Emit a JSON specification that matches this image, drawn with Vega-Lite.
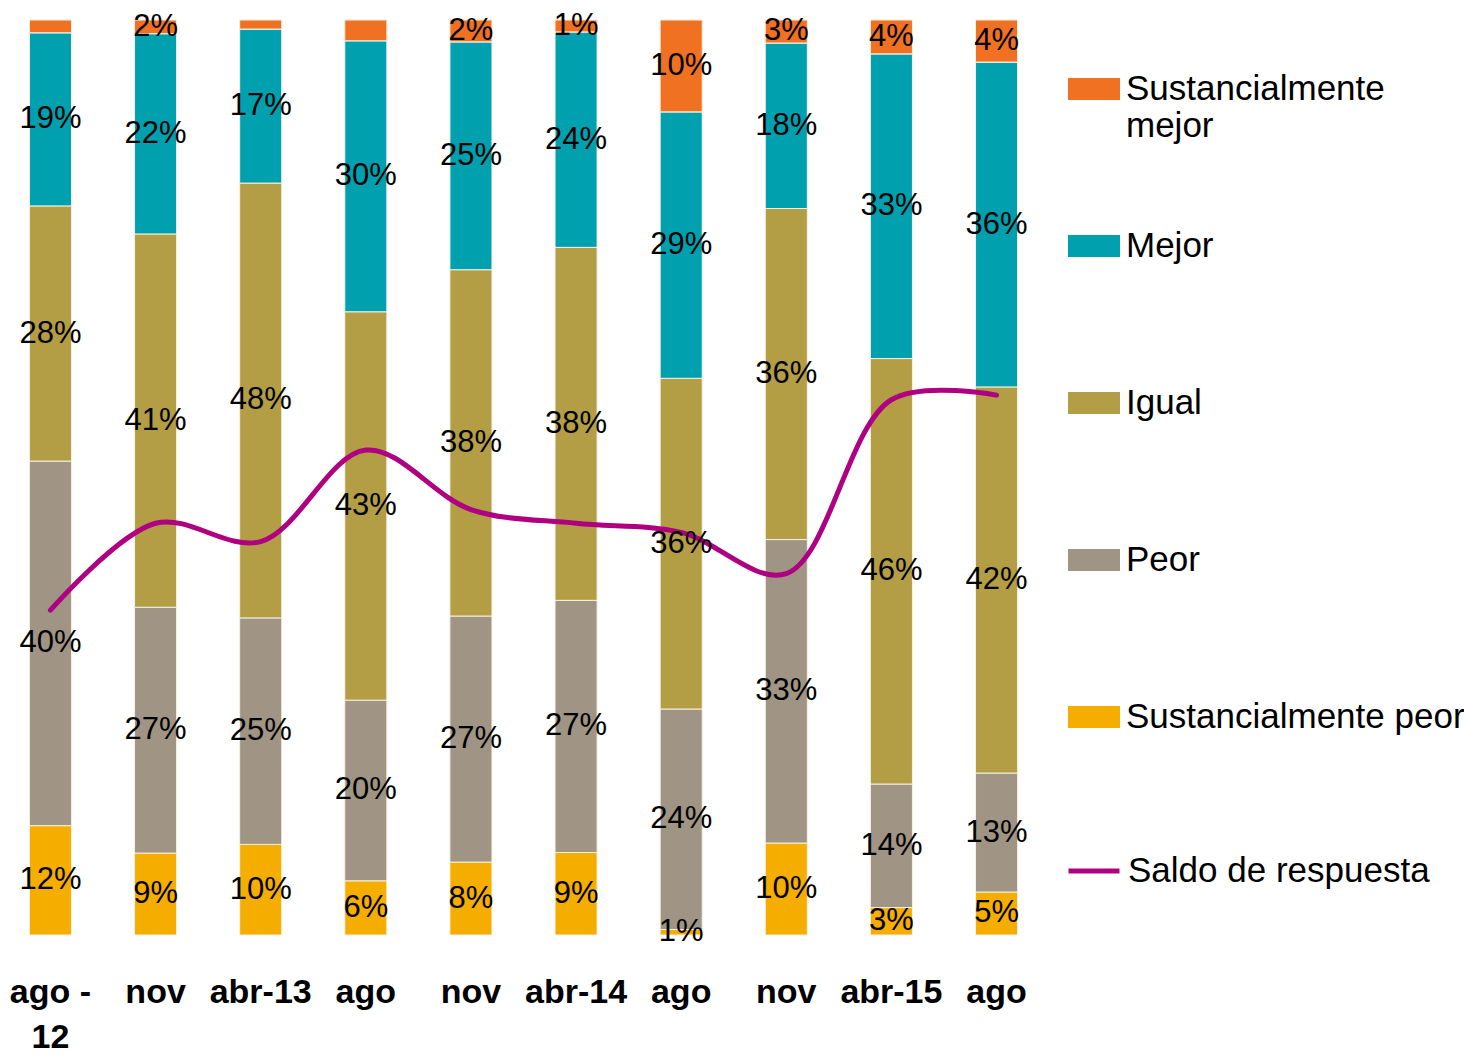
{
  "$schema": "https://vega.github.io/schema/vega-lite/v6.json",
  "width": 1047,
  "height": 915,
  "autosize": "none",
  "padding": {"left": 0, "top": 20, "right": 417, "bottom": 122},
  "config": {"view": {"stroke": null}, "font": "Liberation Sans"},
  "datasets": {
    "barras": [
      {"periodo": "ago-12", "categoria": "Sustancialmente peor", "orden": 1, "valor": 12, "etiqueta": "12%"},
      {"periodo": "ago-12", "categoria": "Peor", "orden": 2, "valor": 40, "etiqueta": "40%"},
      {"periodo": "ago-12", "categoria": "Igual", "orden": 3, "valor": 28, "etiqueta": "28%"},
      {"periodo": "ago-12", "categoria": "Mejor", "orden": 4, "valor": 19, "etiqueta": "19%"},
      {"periodo": "ago-12", "categoria": "Sustancialmente mejor", "orden": 5, "valor": 1.4, "etiqueta": ""},
      {"periodo": "nov-12", "categoria": "Sustancialmente peor", "orden": 1, "valor": 9, "etiqueta": "9%"},
      {"periodo": "nov-12", "categoria": "Peor", "orden": 2, "valor": 27, "etiqueta": "27%"},
      {"periodo": "nov-12", "categoria": "Igual", "orden": 3, "valor": 41, "etiqueta": "41%"},
      {"periodo": "nov-12", "categoria": "Mejor", "orden": 4, "valor": 22, "etiqueta": "22%"},
      {"periodo": "nov-12", "categoria": "Sustancialmente mejor", "orden": 5, "valor": 1.5, "etiqueta": "2%"},
      {"periodo": "abr-13", "categoria": "Sustancialmente peor", "orden": 1, "valor": 10, "etiqueta": "10%"},
      {"periodo": "abr-13", "categoria": "Peor", "orden": 2, "valor": 25, "etiqueta": "25%"},
      {"periodo": "abr-13", "categoria": "Igual", "orden": 3, "valor": 48, "etiqueta": "48%"},
      {"periodo": "abr-13", "categoria": "Mejor", "orden": 4, "valor": 17, "etiqueta": "17%"},
      {"periodo": "abr-13", "categoria": "Sustancialmente mejor", "orden": 5, "valor": 1, "etiqueta": ""},
      {"periodo": "ago-13", "categoria": "Sustancialmente peor", "orden": 1, "valor": 6, "etiqueta": "6%"},
      {"periodo": "ago-13", "categoria": "Peor", "orden": 2, "valor": 20, "etiqueta": "20%"},
      {"periodo": "ago-13", "categoria": "Igual", "orden": 3, "valor": 43, "etiqueta": "43%"},
      {"periodo": "ago-13", "categoria": "Mejor", "orden": 4, "valor": 30, "etiqueta": "30%"},
      {"periodo": "ago-13", "categoria": "Sustancialmente mejor", "orden": 5, "valor": 2.3, "etiqueta": ""},
      {"periodo": "nov-13", "categoria": "Sustancialmente peor", "orden": 1, "valor": 8, "etiqueta": "8%"},
      {"periodo": "nov-13", "categoria": "Peor", "orden": 2, "valor": 27, "etiqueta": "27%"},
      {"periodo": "nov-13", "categoria": "Igual", "orden": 3, "valor": 38, "etiqueta": "38%"},
      {"periodo": "nov-13", "categoria": "Mejor", "orden": 4, "valor": 25, "etiqueta": "25%"},
      {"periodo": "nov-13", "categoria": "Sustancialmente mejor", "orden": 5, "valor": 2.4, "etiqueta": "2%"},
      {"periodo": "abr-14", "categoria": "Sustancialmente peor", "orden": 1, "valor": 9, "etiqueta": "9%"},
      {"periodo": "abr-14", "categoria": "Peor", "orden": 2, "valor": 27.5, "etiqueta": "27%"},
      {"periodo": "abr-14", "categoria": "Igual", "orden": 3, "valor": 38.5, "etiqueta": "38%"},
      {"periodo": "abr-14", "categoria": "Mejor", "orden": 4, "valor": 23.5, "etiqueta": "24%"},
      {"periodo": "abr-14", "categoria": "Sustancialmente mejor", "orden": 5, "valor": 1.3, "etiqueta": "1%"},
      {"periodo": "ago-14", "categoria": "Sustancialmente peor", "orden": 1, "valor": 0.6, "etiqueta": "1%"},
      {"periodo": "ago-14", "categoria": "Peor", "orden": 2, "valor": 24, "etiqueta": "24%"},
      {"periodo": "ago-14", "categoria": "Igual", "orden": 3, "valor": 36, "etiqueta": "36%"},
      {"periodo": "ago-14", "categoria": "Mejor", "orden": 4, "valor": 29, "etiqueta": "29%"},
      {"periodo": "ago-14", "categoria": "Sustancialmente mejor", "orden": 5, "valor": 10, "etiqueta": "10%"},
      {"periodo": "nov-14", "categoria": "Sustancialmente peor", "orden": 1, "valor": 10, "etiqueta": "10%"},
      {"periodo": "nov-14", "categoria": "Peor", "orden": 2, "valor": 33, "etiqueta": "33%"},
      {"periodo": "nov-14", "categoria": "Igual", "orden": 3, "valor": 36, "etiqueta": "36%"},
      {"periodo": "nov-14", "categoria": "Mejor", "orden": 4, "valor": 18, "etiqueta": "18%"},
      {"periodo": "nov-14", "categoria": "Sustancialmente mejor", "orden": 5, "valor": 2.5, "etiqueta": "3%"},
      {"periodo": "abr-15", "categoria": "Sustancialmente peor", "orden": 1, "valor": 3, "etiqueta": "3%"},
      {"periodo": "abr-15", "categoria": "Peor", "orden": 2, "valor": 13.5, "etiqueta": "14%"},
      {"periodo": "abr-15", "categoria": "Igual", "orden": 3, "valor": 46.5, "etiqueta": "46%"},
      {"periodo": "abr-15", "categoria": "Mejor", "orden": 4, "valor": 33.3, "etiqueta": "33%"},
      {"periodo": "abr-15", "categoria": "Sustancialmente mejor", "orden": 5, "valor": 3.7, "etiqueta": "4%"},
      {"periodo": "ago-15", "categoria": "Sustancialmente peor", "orden": 1, "valor": 4.7, "etiqueta": "5%"},
      {"periodo": "ago-15", "categoria": "Peor", "orden": 2, "valor": 13, "etiqueta": "13%"},
      {"periodo": "ago-15", "categoria": "Igual", "orden": 3, "valor": 42.2, "etiqueta": "42%"},
      {"periodo": "ago-15", "categoria": "Mejor", "orden": 4, "valor": 35.5, "etiqueta": "36%"},
      {"periodo": "ago-15", "categoria": "Sustancialmente mejor", "orden": 5, "valor": 4.6, "etiqueta": "4%"}
    ],
    "saldo": [
      {"periodo": "ago-12", "saldo": -29},
      {"periodo": "nov-12", "saldo": -10},
      {"periodo": "abr-13", "saldo": -14},
      {"periodo": "ago-13", "saldo": 6},
      {"periodo": "nov-13", "saldo": -7},
      {"periodo": "abr-14", "saldo": -10},
      {"periodo": "ago-14", "saldo": -12},
      {"periodo": "nov-14", "saldo": -21},
      {"periodo": "abr-15", "saldo": 17},
      {"periodo": "ago-15", "saldo": 18}
    ]
  },
  "encoding": {
    "x": {
      "field": "periodo",
      "type": "nominal",
      "sort": ["ago-12", "nov-12", "abr-13", "ago-13", "nov-13", "abr-14", "ago-14", "nov-14", "abr-15", "ago-15"],
      "scale": {"paddingInner": 0.6, "paddingOuter": 0.28},
      "axis": {
        "title": null,
        "labelAngle": 0,
        "domain": false,
        "ticks": false,
        "labelPadding": 40,
        "labelFontSize": 34,
        "labelFontWeight": "bold",
        "labelColor": "black",
        "labelLineHeight": 45,
        "labelOverlap": false,
        "labelBound": false,
        "labelFlush": false,
        "labelExpr": "datum.value == 'ago-12' ? ['ago -', '12'] : (indexof(datum.value, 'abr') == 0 ? datum.value : slice(datum.value, 0, 3))"
      }
    }
  },
  "layer": [
    {
      "data": {"name": "barras"},
      "transform": [
        {"stack": "valor", "groupby": ["periodo"], "sort": [{"field": "orden", "order": "ascending"}], "as": ["y0", "y1"], "offset": "normalize"}
      ],
      "layer": [
        {
          "mark": {"type": "bar", "stroke": "#F4F1E4", "strokeWidth": 1},
          "encoding": {
            "y": {"field": "y0", "type": "quantitative", "scale": {"domain": [0, 1], "nice": false}, "axis": null},
            "y2": {"field": "y1"},
            "fill": {
              "field": "categoria",
              "type": "nominal",
              "scale": {
                "domain": ["Sustancialmente mejor", "Mejor", "Igual", "Peor", "Sustancialmente peor"],
                "range": ["#F07122", "#00A0AF", "#B39D45", "#A09484", "#F5AE00"]
              },
              "legend": {
                "title": null,
                "values": ["Mejor", "Igual", "Peor", "Sustancialmente peor"],
                "orient": "none",
                "legendX": 1068,
                "legendY": 200,
                "padding": 0,
                "symbolType": "M-1,-0.42H1V0.42H-1Z",
                "symbolSize": 2704,
                "symbolStrokeWidth": 0,
                "symbolOpacity": 1,
                "labelFontSize": 35,
                "labelColor": "black",
                "labelOffset": 6,
                "labelLimit": 400,
                "rowPadding": 113
              }
            }
          }
        },
        {
          "transform": [{"filter": "datum.categoria == 'Sustancialmente mejor'"}],
          "mark": {"type": "bar", "stroke": "#F4F1E4", "strokeWidth": 1},
          "encoding": {
            "y": {"field": "y0", "type": "quantitative"},
            "y2": {"field": "y1"},
            "color": {
              "field": "categoria",
              "type": "nominal",
              "scale": {"domain": ["Sustancialmente mejor"], "range": ["#F07122"]},
              "legend": {
                "title": null,
                "orient": "none",
                "legendX": 1068,
                "legendY": 43,
                "padding": 0,
                "symbolType": "M-1,-0.42H1V0.42H-1Z",
                "symbolSize": 2704,
                "symbolStrokeWidth": 0,
                "symbolOpacity": 1,
                "labelFontSize": 35,
                "labelColor": "black",
                "labelOffset": 6,
                "labelLimit": 400,
                "labelExpr": "['Sustancialmente', 'mejor']",
                "encoding": {"labels": {"update": {"lineHeight": {"value": 47}, "dy": {"value": 23}}}}
              }
            }
          }
        }
      ]
    },
    {
      "data": {"name": "saldo"},
      "mark": {"type": "line", "interpolate": "catmull-rom", "strokeWidth": 5, "strokeCap": "round"},
      "encoding": {
        "y": {"field": "saldo", "type": "quantitative", "scale": {"domain": [-100, 100], "nice": false}, "axis": null},
        "stroke": {
          "datum": "Saldo de respuesta",
          "scale": {"range": ["#B00082"]},
          "legend": {
            "title": null,
            "orient": "none",
            "legendX": 1066,
            "legendY": 823,
            "padding": 0,
            "symbolType": "stroke",
            "symbolSize": 2601,
            "symbolStrokeWidth": 5,
            "labelFontSize": 35,
            "labelColor": "black",
            "labelOffset": 6,
            "labelLimit": 400
          }
        }
      }
    },
    {
      "data": {"name": "barras"},
      "transform": [
        {"stack": "valor", "groupby": ["periodo"], "sort": [{"field": "orden", "order": "ascending"}], "as": ["y0", "y1"], "offset": "normalize"},
        {"calculate": "(datum.y0 + datum.y1) / 2", "as": "medio"}
      ],
      "mark": {"type": "text", "fontSize": 31, "color": "black", "baseline": "middle", "align": "center"},
      "encoding": {
        "y": {"field": "medio", "type": "quantitative", "scale": {"domain": [0, 1], "nice": false}, "axis": null},
        "text": {"field": "etiqueta"}
      }
    }
  ],
  "resolve": {"scale": {"y": "independent"}}
}
